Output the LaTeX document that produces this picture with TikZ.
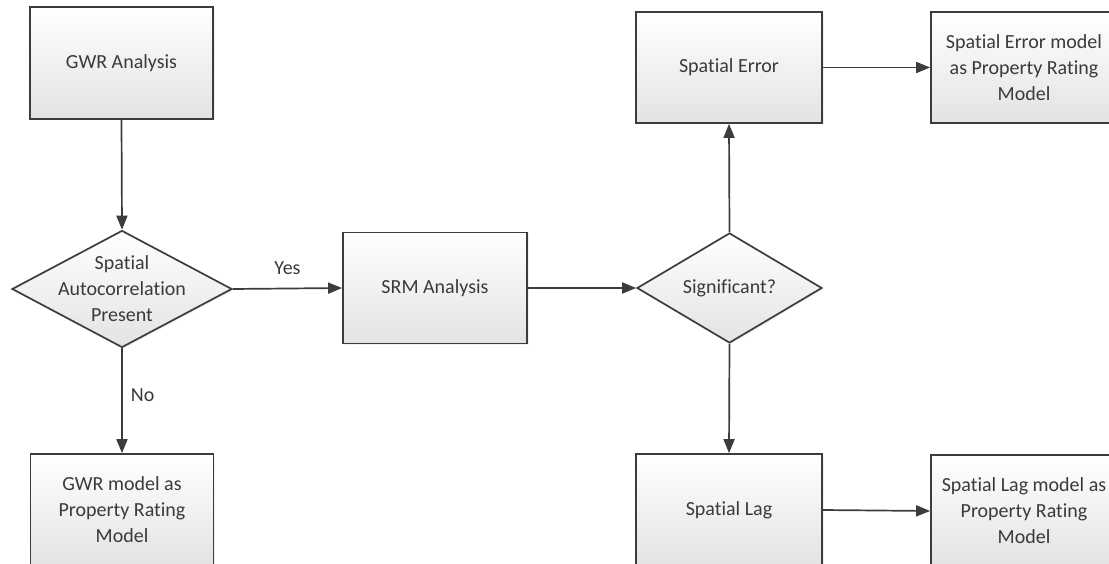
\documentclass[tikz,border=0pt]{standalone}
\usepackage{fontspec}
\setmainfont{Carlito}[Ligatures=NoCommon]
\usetikzlibrary{shapes.geometric,arrows.meta,shadows}
\definecolor{ink}{HTML}{3C3C3C}
\definecolor{txt}{HTML}{3A3A3A}
\tikzset{
  base/.style={draw=ink, line width=1.7pt, top color=white, bottom color=black!11,
    text=txt, align=center, inner sep=0pt,
    font=\fontsize{20}{26}\selectfont,
    drop shadow={opacity=0.12, shadow xshift=1.5pt, shadow yshift=-1.5pt}},
  procbox/.style={base, rectangle, minimum width=#1, minimum height=112pt},
  procbox/.default=184pt,
  decide/.style={base, diamond, inner sep=0pt},
  link/.style={draw=ink, line width=1.7pt, -{Triangle[length=14pt,width=11pt]}},
  lbl/.style={text=txt, font=\fontsize{20}{26}\selectfont, inner sep=0pt, align=center}
}
\begin{document}
\begin{tikzpicture}[x=1pt,y=-1pt]
\path[use as bounding box, fill=white] (0,0) rectangle (1109,564);
\clip (0,0) rectangle (1109,564);

\node[procbox=183pt] (gwr) at (121.5,63) {GWR Analysis};
\node[decide, minimum width=220pt, minimum height=117pt] (d1) at (122,289) {};
\node[lbl] (d1t) at (d1.center) {Spatial\\Autocorrelation\\Present};
\node[procbox=183pt] (gwrm) at (122,510) {GWR model as\\Property Rating\\Model};
\node[procbox=184pt, minimum height=111pt] (srm) at (435,288) {SRM Analysis};
\node[decide, minimum width=185pt, minimum height=110pt] (sig) at (729.5,288) {};
\node[lbl] (sigt) at (sig.center) {Significant?};
\node[procbox=186pt, minimum height=111pt] (se) at (729,67.5) {Spatial Error};
\node[procbox=186pt] (sl) at (729,510) {Spatial Lag};
\node[procbox=186pt, minimum height=111pt] (sem) at (1024,67.5)
  {Spatial Error model\\as Property Rating\\Model};
\node[procbox=186pt] (slm) at (1024,511)
  {Spatial Lag model as\\Property Rating\\Model};

\draw[link] (gwr.south) -- (d1.north);
\draw[link] (d1.east) -- node[lbl, above=13pt] (yes) {Yes} (srm.west);
\draw[link] (d1.south) -- node[lbl, right=8pt, pos=0.45] (no) {No} (gwrm.north);
\draw[link] (srm.east) -- (sig.west);
\draw[link] (sig.north) -- (se.south);
\draw[link] (sig.south) -- (sl.north);
\draw[link] (se.east) -- (sem.west);
\draw[link] (sl.east) -- (slm.west);
\end{tikzpicture}
\end{document}
